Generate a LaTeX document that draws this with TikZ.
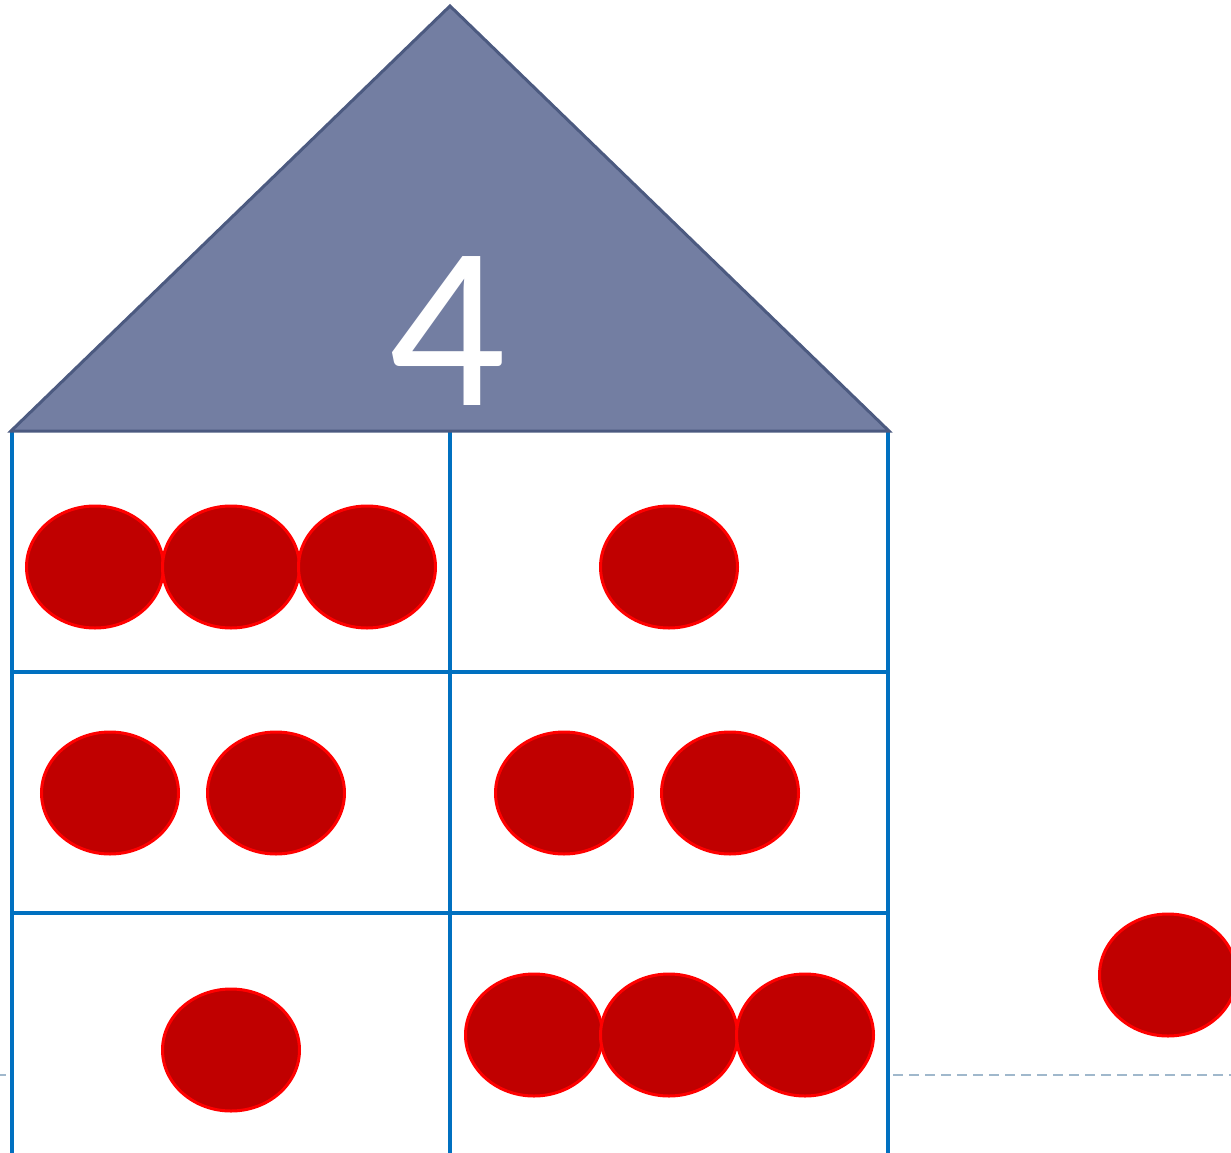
\documentclass[tikz,border=0pt]{standalone}
\usepackage{fontspec}
\newfontfamily\numfont{Carlito}
\definecolor{roof}{HTML}{737EA2}
\definecolor{roofedge}{HTML}{4C5A80}
\definecolor{gridblue}{HTML}{0070C0}
\definecolor{dotfill}{HTML}{C00000}
\definecolor{dotedge}{HTML}{FF0000}
\definecolor{dashcol}{HTML}{A0B8CC}
\begin{document}
\begin{tikzpicture}[x=1pt,y=-1pt,
  gridline/.style={draw=gridblue,line width=3.5pt},
  dot/.style={draw=dotedge,fill=dotfill,line width=3pt},
  guide/.style={draw=dashcol,line width=1.5pt,dash pattern=on 10pt off 6pt}]
\useasboundingbox (0,0) rectangle (1231,1153);
% dashed guide
\coordinate (gl1) at (0,1075);
\coordinate (gl2) at (6,1075);
\coordinate (gr1) at (893,1075);
\coordinate (gr2) at (1231,1075);
\draw[guide] (gl1) -- (gl2);
\draw[guide] (gr1) -- (gr2);
% grid
\coordinate (tl) at (12,431);
\coordinate (tm) at (450,431);
\coordinate (tr) at (888,431);
\coordinate (bl) at (12,1160);
\coordinate (bm) at (450,1160);
\coordinate (br) at (888,1160);
\draw[gridline] (tl) -- (bl);
\draw[gridline] (tm) -- (bm);
\draw[gridline] (tr) -- (br);
\coordinate (h1l) at (12,672);
\coordinate (h1r) at (888,672);
\coordinate (h2l) at (12,913);
\coordinate (h2r) at (888,913);
\draw[gridline] (h1l) -- (h1r);
\draw[gridline] (h2l) -- (h2r);
% roof
\coordinate (apex) at (450,6);
\coordinate (rl) at (11,431);
\coordinate (rr) at (889,431);
\draw[roofedge,fill=roof,line width=3pt,line join=miter] (apex) -- (rr) -- (rl) -- cycle;
\node[text=white,font=\numfont\fontsize{232}{232}\selectfont,anchor=base,inner sep=0pt] (num) at (447,405) {4};
% dots
\foreach \n/\x/\y in {a1/95/567,a2/231/567,a3/367/567,b1/669/567,
  c1/110/793,c2/276/793,d1/564/793,d2/730/793,
  e1/231/1050,f1/534/1035,f2/669/1035,f3/805/1035,g1/1168/975}
  \path[dot] (\x,\y) ellipse [x radius=68.5, y radius=61];
\end{tikzpicture}
\end{document}
